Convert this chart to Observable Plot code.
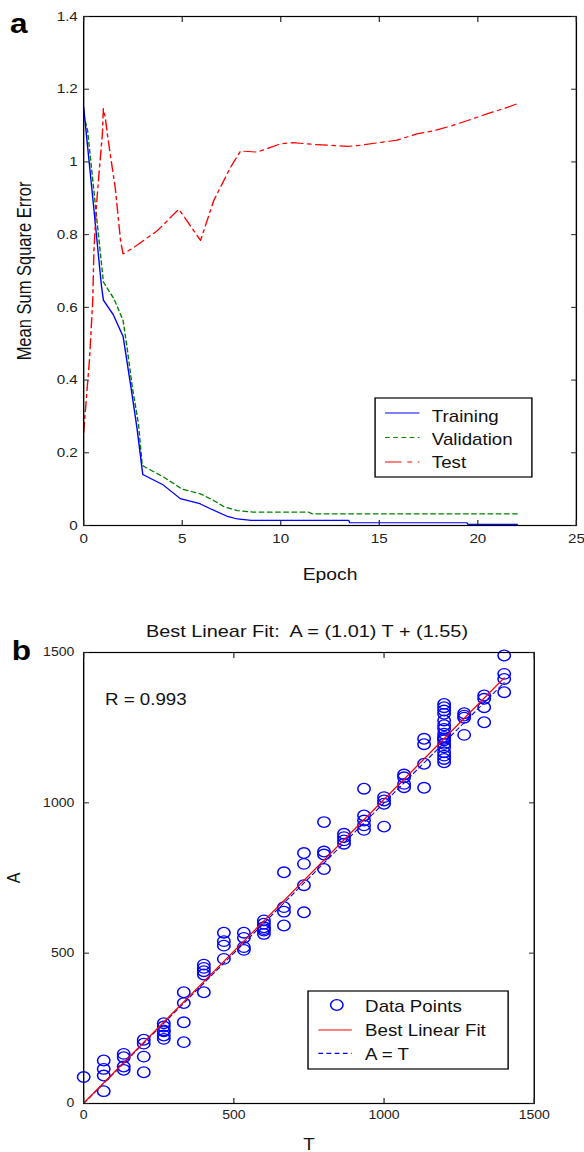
<!DOCTYPE html>
<html>
<head>
<meta charset="utf-8">
<script src="https://cdn.jsdelivr.net/npm/d3@7"></script>
<script src="https://cdn.jsdelivr.net/npm/@observablehq/plot@0.6"></script>
<style>
html,body{margin:0;padding:0;background:#fff;}
body{width:584px;height:1152px;overflow:hidden;}
#stage{position:relative;width:499px;height:1152px;transform:scaleX(1.1703);transform-origin:0 0;font-family:"Liberation Sans",Arial,Helvetica,sans-serif;}
#panelA{position:absolute;left:0;top:0;}
#panelB{position:absolute;left:0;top:600px;}
#overlay{position:absolute;left:0;top:0;pointer-events:none;overflow:visible;}
svg text{font-family:"Liberation Sans",Arial,Helvetica,sans-serif;}
#panelA g[aria-label="x-axis label"] text, #panelA g[aria-label="y-axis label"] text{font-size:16.5px;fill:#111;}
#panelB g[aria-label="x-axis label"] text, #panelB g[aria-label="y-axis label"] text{font-size:16px;fill:#111;}
</style>
</head>
<body>
<div id="stage"><div id="panelA"></div><div id="panelB"></div><svg id="overlay" width="499" height="1152"></svg></div>
<script>
// ---------- Panel a data ----------
const epochTicks = [0, 5, 10, 15, 20, 25];
const mseTicks = [0, 0.2, 0.4, 0.6, 0.8, 1, 1.2, 1.4];

const trainEpoch = [0, 0.5, 0.9, 1, 1.5, 2, 2.4, 2.7, 3, 4, 4.6, 4.9, 5.9, 6.4, 7.3, 7.8, 8.5, 13.45, 13.5, 19.45, 19.5, 22];
const trainMSE   = [1.15, 0.88, 0.66, 0.62, 0.58, 0.52, 0.38, 0.27, 0.14, 0.113, 0.087, 0.074, 0.06, 0.047, 0.025, 0.018, 0.014, 0.014, 0.0075, 0.0075, 0.003, 0.003];

const valEpoch = [0, 0.2, 1, 1.54, 2, 2.2, 2.47, 2.78, 2.97, 4.07, 5, 5.93, 6.6, 7.1, 7.8, 8.6, 11.4, 11.6, 22];
const valMSE   = [1.13, 1.086, 0.67, 0.623, 0.564, 0.49, 0.38, 0.28, 0.165, 0.133, 0.1, 0.087, 0.069, 0.052, 0.041, 0.037, 0.037, 0.032, 0.032];

const testEpoch = [0, 0.1, 0.3, 0.46, 0.52, 0.64, 0.78, 0.95, 1, 1.1, 1.2, 1.37, 1.6, 1.87, 2, 2.55, 3.74, 4.83, 5.93, 6.6, 7.45, 7.96, 8.8, 10, 10.6, 11.7, 13.4, 13.9, 15.1, 15.9, 16.9, 17.8, 18.7, 19.6, 20.5, 21.5, 22];
const testMSE   = [0.256, 0.325, 0.46, 0.62, 0.756, 0.875, 0.97, 1.077, 1.147, 1.12, 1.077, 1.013, 0.93, 0.784, 0.747, 0.765, 0.811, 0.87, 0.784, 0.894, 0.985, 1.03, 1.027, 1.05, 1.053, 1.048, 1.043, 1.045, 1.054, 1.06, 1.077, 1.086, 1.1, 1.116, 1.133, 1.15, 1.16];

const seriesNames = ["Training", "Validation", "Test"];
const seriesColors = ["#0000ff", "#008000", "#ff0000"];
const seriesDash = [null, "4,3", "10,4,3,4"];

// ---------- Panel b data ----------
const targetT = [0, 66.7, 133.3, 200, 266.7, 333.3, 400, 466.7, 533.3, 600, 666.7, 733.3, 800, 866.7, 933.3, 1000, 1066.7, 1133.3, 1200, 1266.7, 1333.3, 1400];
const outputA = [
  [88],
  [143, 115, 93, 41],
  [165, 154, 123, 112],
  [212, 199, 156, 104],
  [267, 256, 243, 240, 226, 215],
  [370, 334, 270, 204],
  [462, 451, 440, 429, 370],
  [568, 540, 525, 481],
  [568, 551, 520, 511],
  [609, 598, 586, 580, 575, 564],
  [769, 653, 638, 592],
  [833, 797, 726, 636],
  [936, 838, 828, 780],
  [897, 886, 875, 864],
  [1047, 958, 941, 925, 910],
  [1019, 1008, 997, 921],
  [1094, 1085, 1063, 1052],
  [1213, 1195, 1130, 1050],
  [1329, 1318, 1307, 1296, 1274, 1258, 1246, 1230, 1219, 1213, 1208, 1196, 1185, 1168, 1157, 1146, 1135],
  [1298, 1290, 1283, 1226],
  [1357, 1346, 1318, 1268],
  [1490, 1429, 1412, 1368]
];
const fitSlope = 1.01;
const fitIntercept = 1.55;
const fitRangeT = [0, 1400];
const tTicks = [0, 500, 1000, 1500];
const aTicks = [0, 500, 1000, 1500];

// ---------- build tables ----------
const FONT = "'Liberation Sans', Arial, Helvetica, sans-serif";
const rows = (xs, ys) => xs.map((x, i) => ({x, y: ys[i]}));
const trainRows = rows(trainEpoch, trainMSE);
const valRows = rows(valEpoch, valMSE);
const testRows = rows(testEpoch, testMSE);
const points = targetT.flatMap((t, i) => outputA[i].map(a => ({T: t, A: a})));
const fitRows = fitRangeT.map(t => ({T: t, A: fitSlope * t + fitIntercept}));
const identRows = fitRangeT.map(t => ({T: t, A: t}));

const chartA = Plot.plot({
  width: 499, height: 590,
  marginLeft: 71, marginRight: 7, marginTop: 16, marginBottom: 65,
  style: {fontFamily: FONT, fontSize: "13px", color: "#222", background: "transparent", overflow: "visible"},
  x: {domain: [0, 25]},
  y: {domain: [0, 1.4]},
  marks: [
    Plot.line(valRows, {x: "x", y: "y", stroke: seriesColors[1], strokeWidth: 1.2, strokeDasharray: seriesDash[1]}),
    Plot.line(trainRows, {x: "x", y: "y", stroke: seriesColors[0], strokeWidth: 1.2}),
    Plot.line(testRows, {x: "x", y: "y", stroke: seriesColors[2], strokeWidth: 1.2, strokeDasharray: seriesDash[2]}),
    Plot.frame({stroke: "#000", strokeWidth: 1.2}),
    Plot.axisX(epochTicks, {anchor: "bottom", tickSize: -5, tickPadding: 13, tickFormat: d => String(d), label: "Epoch", labelAnchor: "center", labelOffset: 54, labelArrow: "none"}),
    Plot.axisX(epochTicks, {anchor: "top", tickSize: -5, tickFormat: () => "", label: null}),
    Plot.axisY(mseTicks, {anchor: "left", tickSize: -5, tickPadding: 10, tickFormat: d => String(d), label: "Mean Sum Square Error", labelAnchor: "center", labelOffset: 57, labelArrow: "none"}),
    Plot.axisY(mseTicks, {anchor: "right", tickSize: -5, tickFormat: () => "", label: null})
  ]
});
document.getElementById("panelA").appendChild(chartA);

const chartB = Plot.plot({
  width: 499, height: 552,
  marginLeft: 71, marginRight: 43, marginTop: 52, marginBottom: 49,
  style: {fontFamily: FONT, fontSize: "12px", color: "#222", background: "transparent", overflow: "visible"},
  x: {domain: [0, 1500]},
  y: {domain: [0, 1500]},
  marks: [
    Plot.dot(points, {x: "T", y: "A", r: 5.3, symbol: "circle", stroke: "#0000ff", strokeWidth: 1.3, fill: "none"}),
    Plot.line(identRows, {x: "T", y: "A", stroke: "#0000ff", strokeWidth: 1, strokeDasharray: "4,3"}),
    Plot.line(fitRows, {x: "T", y: "A", stroke: "#ff0000", strokeWidth: 1.2}),
    Plot.frame({stroke: "#000", strokeWidth: 1.2}),
    Plot.axisX(tTicks, {anchor: "bottom", tickSize: -5, tickPadding: 12, tickFormat: d => String(d), label: "T", labelAnchor: "center", labelOffset: 46, labelArrow: "none"}),
    Plot.axisX(tTicks, {anchor: "top", tickSize: -5, tickFormat: () => "", label: null}),
    Plot.axisY(aTicks, {anchor: "left", tickSize: -5, tickPadding: 13, tickFormat: d => String(d), label: "A", labelAnchor: "center", labelOffset: 66, labelArrow: "none"}),
    Plot.axisY(aTicks, {anchor: "right", tickSize: -5, tickFormat: () => "", label: null})
  ]
});
document.getElementById("panelB").appendChild(chartB);

// ---------- overlay: panel letters, title, annotation, legends ----------
const ov = d3.select("#overlay");
function txt(x, y, s, size, extra = {}) {
  const t = ov.append("text").attr("x", x).attr("y", y).attr("font-size", size)
    .attr("fill", extra.fill || "#111").attr("text-anchor", extra.anchor || "start")
    .style("white-space", "pre").text(s);
  if (extra.bold) t.attr("font-weight", "bold");
  return t;
}
txt(8.5, 33, "a", 27, {bold: true, fill: "#000"});
txt(10, 660, "b", 27, {bold: true, fill: "#000"});
txt(262.3, 637, "Best Linear Fit:  A = (1.01) T + (1.55)", 17, {anchor: "middle"});
txt(89.7, 705, "R = 0.993", 16);

// legend a
ov.append("rect").attr("x", 320.5).attr("y", 398).attr("width", 134).attr("height", 79)
  .attr("fill", "#fff").attr("stroke", "#000").attr("stroke-width", 1.2);
const legAy = [413, 437.5, 462];
const legAbase = [421.7, 445.5, 468.5];
seriesNames.forEach((name, i) => {
  const l = ov.append("line").attr("x1", 329).attr("x2", 358.4).attr("y1", legAy[i]).attr("y2", legAy[i])
    .attr("stroke", seriesColors[i]).attr("stroke-width", 1.2);
  if (seriesDash[i]) l.attr("stroke-dasharray", i === 2 ? "14,5,4,5" : seriesDash[i]);
  txt(369, legAbase[i], name, 16);
});

// legend b
ov.append("rect").attr("x", 263.2).attr("y", 991).attr("width", 171).attr("height", 78)
  .attr("fill", "#fff").attr("stroke", "#000").attr("stroke-width", 1.2);
ov.append("circle").attr("cx", 287.8).attr("cy", 1005).attr("r", 5.3).attr("fill", "none").attr("stroke", "#0000ff").attr("stroke-width", 1.3);
ov.append("line").attr("x1", 272).attr("x2", 300.6).attr("y1", 1030).attr("y2", 1030).attr("stroke", "#ff0000").attr("stroke-width", 1.2);
ov.append("line").attr("x1", 272).attr("x2", 300.6).attr("y1", 1053.3).attr("y2", 1053.3).attr("stroke", "#0000ff").attr("stroke-width", 1.2).attr("stroke-dasharray", "4,3");
txt(312, 1012.3, "Data Points", 16);
txt(312, 1036, "Best Linear Fit", 16);
txt(312, 1060, "A = T", 16);
</script>
</body>
</html>
